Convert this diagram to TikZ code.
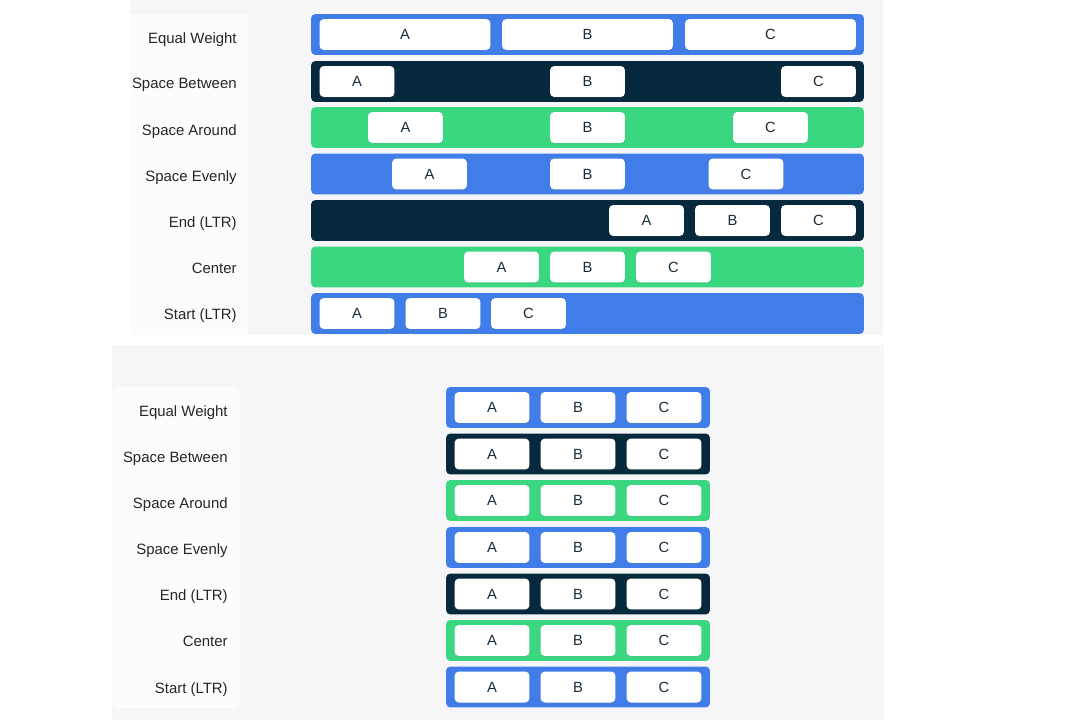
\documentclass[tikz,border=0pt]{standalone}
\usepackage{fontspec}
\setmainfont{Liberation Sans}
\usetikzlibrary{positioning,shadows}
\definecolor{barblue}{RGB}{64,125,232}
\definecolor{barnavy}{RGB}{7,41,61}
\definecolor{bargreen}{RGB}{59,214,128}
\definecolor{panelgray}{RGB}{246,246,248}
\definecolor{labelpanel}{RGB}{252,252,253}
\definecolor{itemtext}{RGB}{24,44,60}
\colorlet{labeltext}{black!85}

\begin{document}
\begin{tikzpicture}[x=0.02cm, y=-0.02cm,
    bar/.style={rounded corners=2.5pt, inner sep=0pt, minimum height=0.82cm},
    wide/.style={bar, minimum width=11.06cm},
    narrow/.style={bar, minimum width=5.28cm},
    item/.style={fill=white, rounded corners=2.5pt, inner sep=0pt, minimum height=0.62cm,
        minimum width=1.5cm, text=itemtext, font=\fontsize{8.4}{10}\selectfont,
        text height=6pt, text depth=0pt,
        drop shadow={opacity=0.12, shadow xshift=0pt, shadow yshift=-0.6pt}},
    rowlabel/.style={anchor=base east, inner sep=0pt, text=labeltext, font=\fontsize{8.5}{10}\selectfont}]

    \useasboundingbox (0,0) rectangle (1080,720);
    \fill[white] (0,0) rectangle (1080,720);

    % panels
    \fill[panelgray] (130,0) rectangle (883,335);
    \fill[labelpanel] (130,14) rectangle (248,335);
    \fill[panelgray] (112,345) rectangle (884,720);
    \fill[labelpanel, rounded corners=3pt] (112,387) rectangle (240,708);

    % row labels (at baseline)
    \foreach \name/\txt/\yt/\yb in {eq/Equal Weight/43/416, sb/Space Between/89/462,
        sa/Space Around/135/508, se/Space Evenly/181/554, en/End (LTR)/227/600,
        ce/Center/273/646, st/Start (LTR)/319/693} {
        \node[rowlabel] (lab-top-\name) at (237,\yt) {\txt};
        \node[rowlabel] (lab-bot-\name) at (228,\yb) {\txt};
    }

    % top: wide bars
    \foreach \name/\col/\y in {eq/barblue/34.5, sb/barnavy/81.5, sa/bargreen/127.5,
        se/barblue/174, en/barnavy/220.5, ce/bargreen/267, st/barblue/313.5}
        \node[wide, fill=\col] (bar-top-\name) at (587.5,\y) {};

    \node[item, minimum width=3.42cm] (eq-a) at (405,34.5) {A};
    \node[item, minimum width=3.42cm] (eq-b) at (587.5,34.5) {B};
    \node[item, minimum width=3.42cm] (eq-c) at (770.5,34.5) {C};

    \foreach \name/\y/\xa/\xb/\xc in {sb/81.5/357/587.5/818.5, sa/127.5/405.5/587.5/770.5,
        se/174/429.5/587.5/746, en/220.5/646.5/732.5/818.5, ce/267/501.5/587.5/673.5,
        st/313.5/357/443/528.5} {
        \node[item] (\name-a) at (\xa,\y) {A};
        \node[item] (\name-b) at (\xb,\y) {B};
        \node[item] (\name-c) at (\xc,\y) {C};
    }

    % bottom: narrow bars, items packed
    \foreach \name/\col/\y in {eq/barblue/407.5, sb/barnavy/454, sa/bargreen/500.5,
        se/barblue/547.5, en/barnavy/594, ce/bargreen/640.5, st/barblue/687} {
        \node[narrow, fill=\col] (bar-bot-\name) at (578,\y) {};
        \node[item] (bot-\name-a) at (492,\y) {A};
        \node[item] (bot-\name-b) at (578,\y) {B};
        \node[item] (bot-\name-c) at (664,\y) {C};
    }

\end{tikzpicture}
\end{document}
